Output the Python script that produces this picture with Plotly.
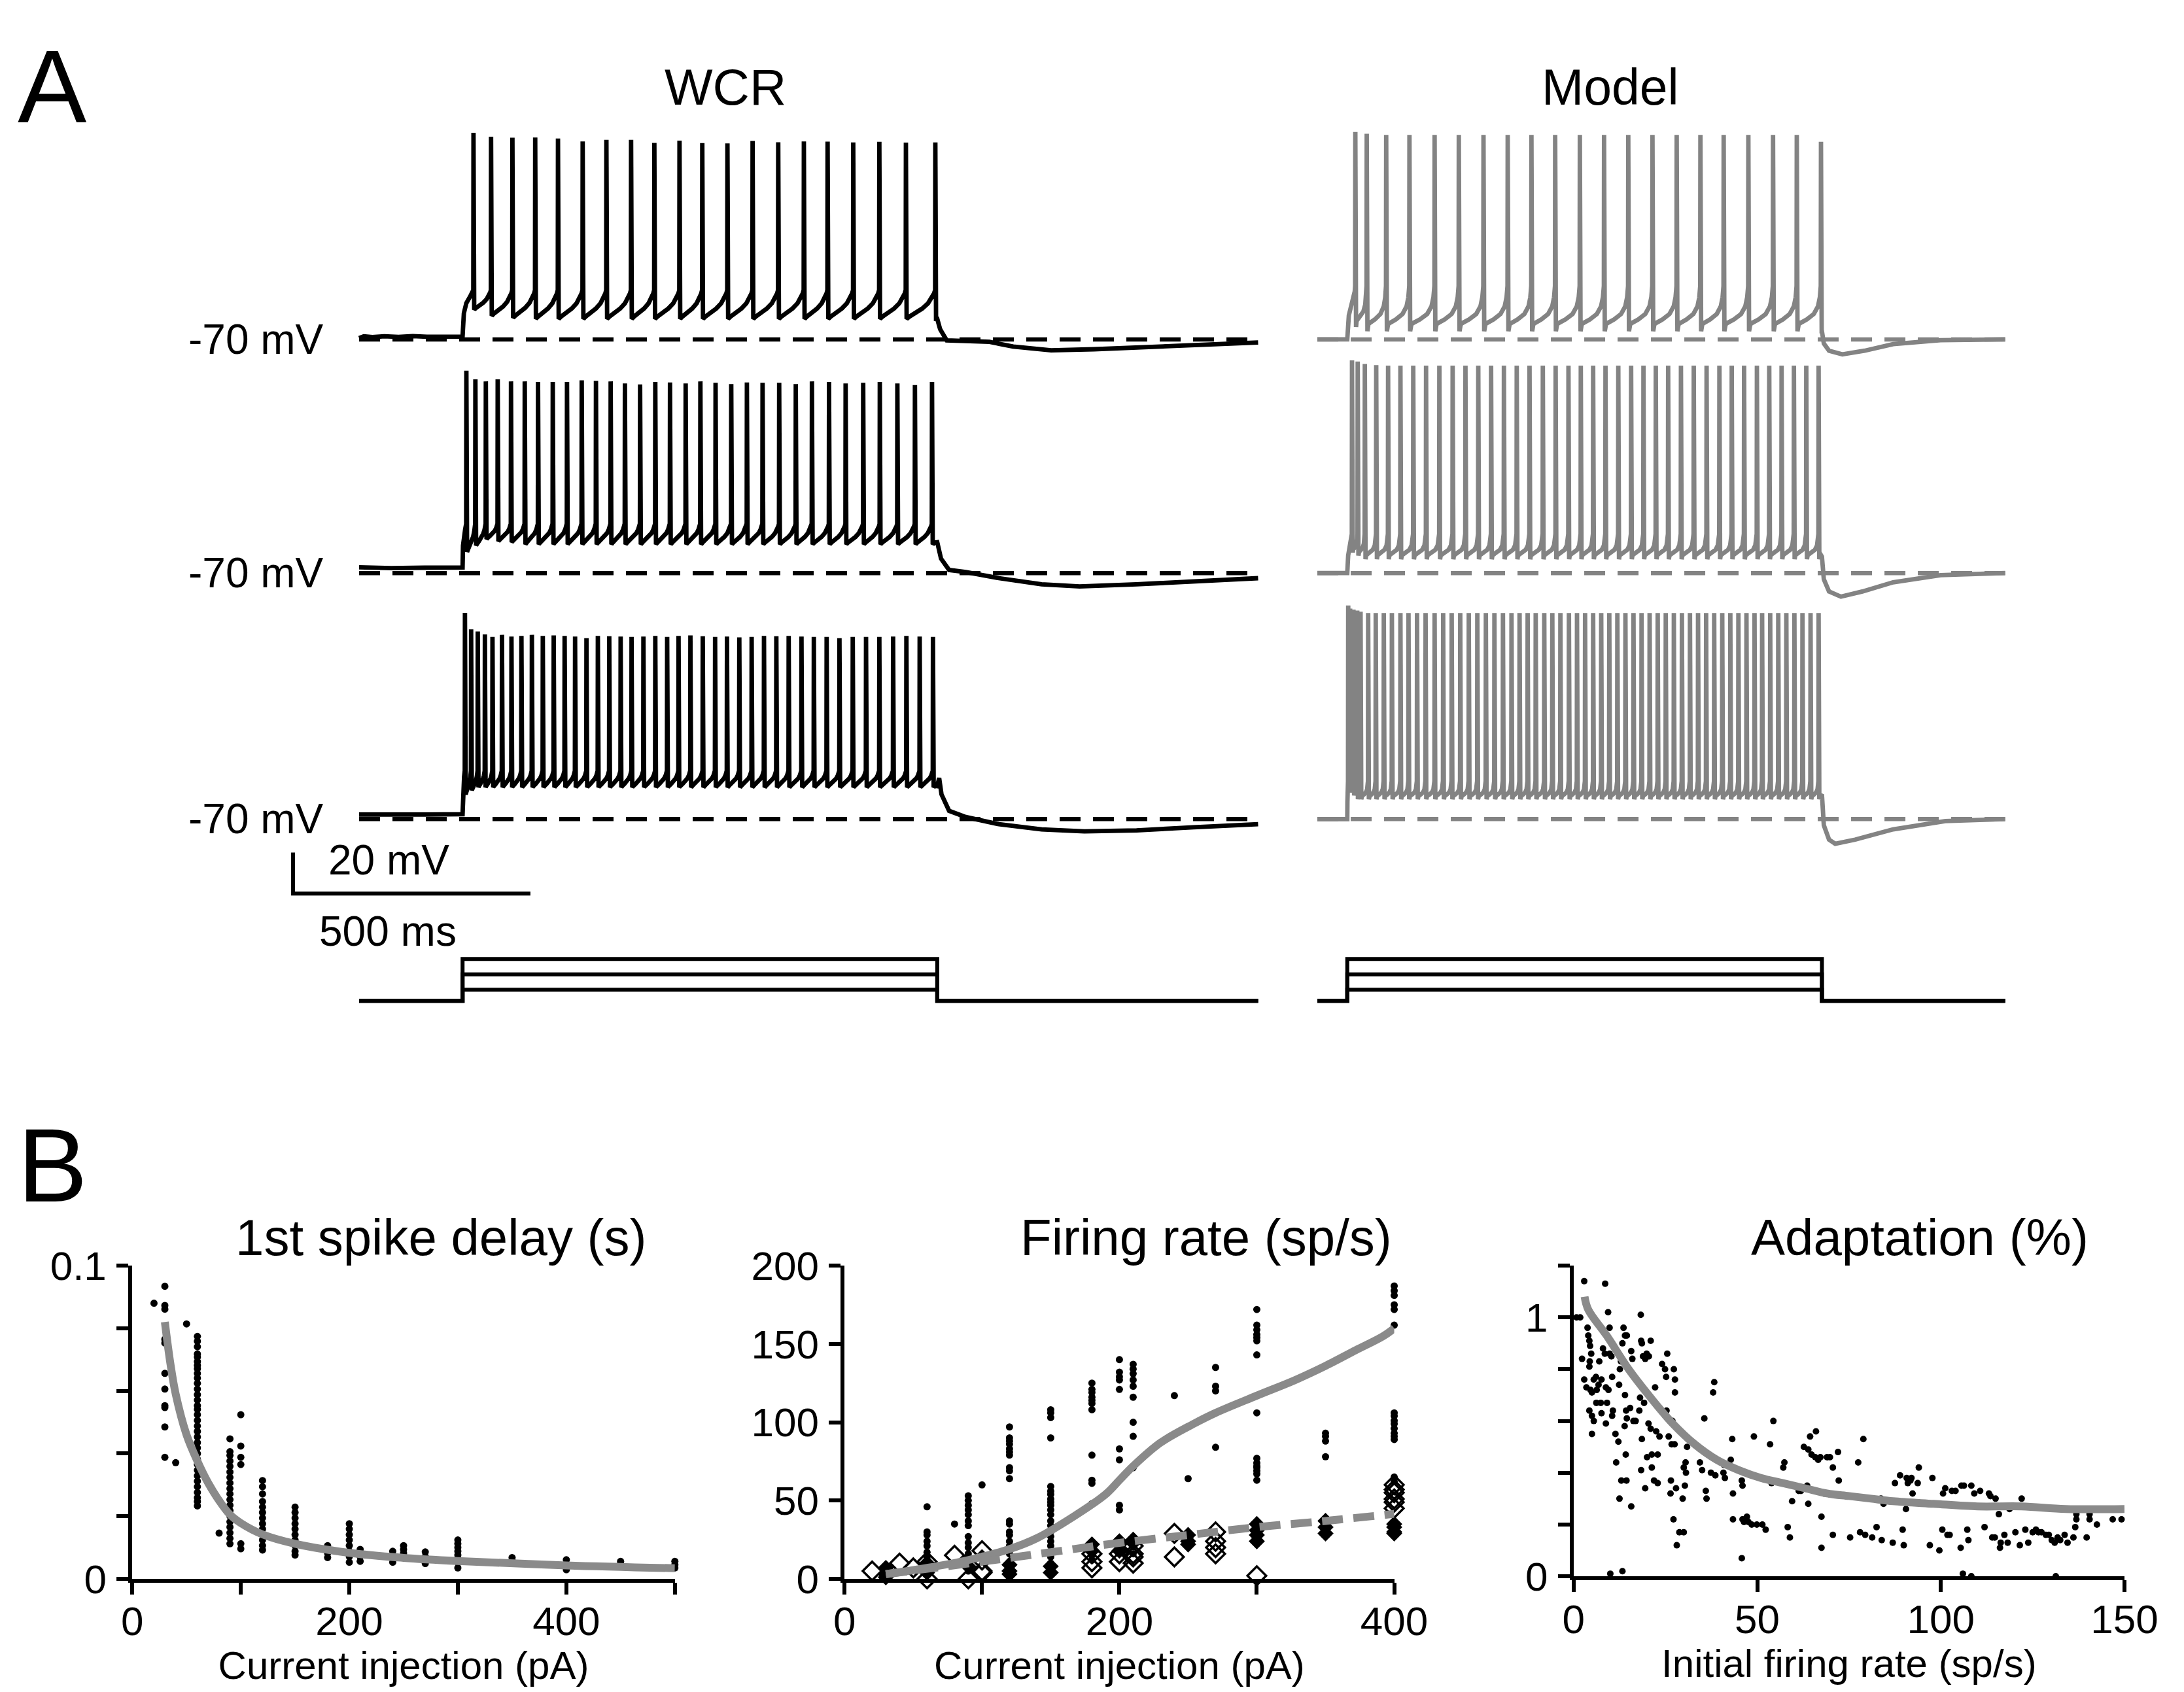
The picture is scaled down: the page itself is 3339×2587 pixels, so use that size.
import plotly.graph_objects as go

W, H = 3339, 2587
FONT = "Liberation Sans, Arial, sans-serif"
MODEL_GRAY = "#838383"
FIT_GRAY = "#8a8a8a"

# ===================== Panel A data (ms from step onset, mV) =====================
STIM_DUR = 1000
REST = -70
WCR_SPAN = [-218, 1676]
MODEL_SPAN = [-63, 1386]

wcr1_spike_t = [23, 60, 105, 153, 201, 253, 303, 355, 404, 457, 505, 558, 611, 665, 719, 769, 823, 878, 934, 996]
wcr1_peak = [30.6, 28.7, 28.2, 28.3, 27.8, 26.4, 27.2, 27.2, 25.7, 26.8, 25.6, 25.4, 26.6, 26.0, 26.4, 26.3, 25.9, 26.2, 25.8, 25.9]
wcr1_trough = [-55.5, -58.5, -59.5, -60.0]
wcr1_thresh = -46
wcr1_pre = [(-218, -69.4), (-208, -68.5), (-190, -68.9), (-165, -68.5), (-135, -68.8), (-105, -68.4), (-75, -68.7), (-45, -68.5), (-15, -68.7), (0, -68.6)]
wcr1_post = [(0, -60), (6, -65), (20, -70.5), (60, -71), (110, -71.2), (160, -73.5), (240, -75.3), (330, -74.8), (450, -73.5), (560, -72.3), (676, -71.5)]

wcr2_spike_t = [8, 27, 49, 74, 102, 131, 159, 190, 220, 251, 281, 312, 342, 374, 406, 437, 470, 501, 533, 566,
                599, 632, 667, 702, 736, 772, 807, 844, 879, 916, 953, 989]
wcr2_peak = [28.5, 24.3, 23.3, 24.3, 23.3, 23.3, 23.0, 23.0, 23.0, 23.8, 23.6, 23.3, 22.3, 21.8, 23.0, 22.8,
             22.3, 23.3, 22.6, 22.0, 22.8, 22.6, 22.6, 22.0, 23.3, 23.0, 22.3, 22.6, 23.0, 22.3, 21.5, 23.0]
wcr2_trough = [-59.7, -56.6, -53.5, -54.5, -55.0, -56.0]
wcr2_thresh = -46
wcr2_pre = [(-218, -67.2), (-150, -67.6), (-80, -67.4), (0, -67.3)]
wcr2_post = [(0, -55), (8, -63), (25, -68.5), (60, -69.5), (130, -72.5), (220, -75.5), (300, -76.5), (420, -75.5), (540, -74), (676, -72.5)]

wcr3_spike_t = [5, 18, 32, 47, 63, 83, 103, 124, 146, 169, 192, 215, 237, 261, 285, 309, 333, 356, 381, 406, 431,
                455, 480, 506, 532, 557, 583, 609, 635, 661, 687, 714, 740, 767, 794, 822, 850, 878, 907, 935, 963, 991]
wcr3_peak = [30.4, 22.4, 21.3, 19.9, 18.7, 19.7, 18.9, 19.2, 19.7, 19.2, 19.4, 19.2, 18.9, 18.1, 19.2, 19.0, 18.9,
             18.7, 18.9, 19.2, 18.7, 19.2, 19.4, 19.0, 18.7, 18.9, 18.5, 18.7, 19.2, 19.0, 19.2, 18.9, 18.7, 18.7,
             18.1, 18.7, 18.7, 18.7, 18.9, 19.2, 18.9, 18.7]
wcr3_trough = [-58.0, -56.0, -54.5]
wcr3_thresh = -46.5
wcr3_pre = [(-218, -67.8), (-150, -68.0), (-80, -67.8), (0, -67.6)]
wcr3_post = [(0, -54), (4, -50), (9, -58), (25, -66), (60, -69), (130, -72.5), (220, -75), (310, -76), (420, -75.5), (540, -74), (676, -72.5)]

model1_spike_t = [17, 41, 82, 131, 184, 235, 287, 338, 388, 438, 490, 541, 592, 643, 694, 744, 793, 845, 897, 947, 998]
model1_peak = [31.0, 30.1] + [29.6] * 18 + [26.2]
model1_trough = [-64.0, -66.0]
model1_thresh = -44
model1_post = [(0, -66), (4, -72), (15, -75.5), (43, -77.3), (90, -75.5), (150, -72.3), (250, -70.4), (386, -70)]

model2_spike_t = [10, 22, 37, 61, 86, 112, 139, 166, 194, 222, 249, 276, 303, 330, 357, 384, 412, 439, 466, 492,
                  518, 544, 571, 598, 624, 650, 676, 703, 730, 757, 784, 810, 836, 863, 889, 915, 941, 967, 993]
model2_peak = [33.5, 33.0, 31.8, 31.2] + [31.0] * 35
model2_trough = [-60.0, -61.5, -63.3]
model2_thresh = -51
model2_post = [(0, -62), (4, -73), (15, -79), (40, -81.5), (85, -79), (150, -74.5), (250, -71), (386, -70)]

model3_spike_t = [2, 6, 13, 21, 28, 44, 60, 77, 94, 112, 129, 147, 165, 184, 202, 220, 238, 256, 274, 292, 310,
                  328, 346, 363, 380, 397, 415, 432, 449, 467, 484, 501, 518, 535, 552, 569, 586, 603, 620, 637,
                  654, 671, 688, 705, 722, 739, 756, 773, 790, 807, 824, 841, 858, 874, 891, 908, 925, 942, 959, 976, 993]
model3_peak = [34.0, 32.5, 32.0, 31.5, 31.0] + [30.3] * 56
model3_trough = [-55.0, -57.0, -58.5, -60.3]
model3_thresh = -51.5
model3_post = [(0, -58), (4, -73), (15, -80), (28, -82), (70, -80), (150, -75), (260, -71), (386, -70)]

model_pre = [(-63, -70.0), (0, -70.0)]

# shape of the voltage path between spikes (fraction of interval, fraction of trough->threshold rise)
wcr_isi_shape = [(0, 0), (0.1, 0.08), (0.3, 0.2), (0.55, 0.36), (0.75, 0.54), (0.88, 0.72), (0.96, 0.88), (1, 1)]
wcr_onset_shape = [(0, 0), (0.12, 0.5), (0.35, 0.72), (0.7, 0.86), (1, 1)]
model_isi_shape = [(0, 0), (0.05, 0.15), (0.12, 0.18), (0.4, 0.26), (0.7, 0.38), (0.88, 0.55), (0.96, 0.75), (1, 1)]
model_onset_shape = [(0, 0), (0.2, 0.45), (0.5, 0.62), (0.8, 0.78), (0.95, 0.9), (1, 1)]

stim_levels = [80, 190, 300]   # three current steps (drawn schematically)
scale_bar_ms = 500
scale_bar_mv = 20

# ===================== Panel B data =====================
delay_current = [20, 30, 40, 50, 60, 80, 90, 100, 120, 150, 180, 200, 210, 240, 250, 270, 300, 350, 400, 450, 500]
delay_values = [
    [0.088],
    [0.0934, 0.0873, 0.0861, 0.0765, 0.0753, 0.0656, 0.0606, 0.0553, 0.0547, 0.0485, 0.0388],
    [0.0371],
    [0.0814],
    [0.0774, 0.0759, 0.0741, 0.0718, 0.0708, 0.0694, 0.0682, 0.0671, 0.0656, 0.0641, 0.0624, 0.0606, 0.0588,
     0.0571, 0.0553, 0.0541, 0.0524, 0.0506, 0.0488, 0.0471, 0.0453, 0.0435, 0.0418, 0.0400, 0.0382, 0.0365,
     0.0347, 0.0329, 0.0312, 0.0294, 0.0276, 0.0259, 0.0247, 0.0233],
    [0.0146],
    [0.0447, 0.0406, 0.0394, 0.0376, 0.0359, 0.0341, 0.0324, 0.0306, 0.0288, 0.0271, 0.0253, 0.0235, 0.0218,
     0.0200, 0.0182, 0.0165, 0.0147, 0.0129, 0.0112],
    [0.0524, 0.0424, 0.0388, 0.0365, 0.0112, 0.0096],
    [0.0314, 0.0294, 0.0271, 0.0247, 0.0229, 0.0212, 0.0194, 0.0176, 0.0159, 0.0141, 0.0124, 0.0106, 0.0092],
    [0.0229, 0.0212, 0.0194, 0.0176, 0.0159, 0.0141, 0.0124, 0.0106, 0.0088, 0.0076],
    [0.0106, 0.0094, 0.0082, 0.0068],
    [0.0176, 0.0159, 0.0141, 0.0124, 0.0106, 0.0088, 0.0071, 0.0053],
    [0.0094, 0.0082, 0.0071, 0.0056],
    [0.0088, 0.0076, 0.0065, 0.0053],
    [0.0106, 0.0094, 0.0082, 0.0071],
    [0.0086, 0.0071, 0.0049],
    [0.0124, 0.0112, 0.0100, 0.0088, 0.0076, 0.0065, 0.0053, 0.0035],
    [0.0068, 0.0059],
    [0.0061, 0.0047, 0.0029],
    [0.0056, 0.0049],
    [0.0056, 0.0045, 0.0035],
]
delay_fit_x = [30, 35, 40, 50, 60, 70, 80, 90, 100, 120, 150, 200, 250, 300, 400, 500]
delay_fit_y = [0.082, 0.069, 0.059, 0.046, 0.0376, 0.0306, 0.0250, 0.0205, 0.0178, 0.0142, 0.0112, 0.0083, 0.0067, 0.0057, 0.0043, 0.0034]

rate_dot_current = [30, 60, 80, 90, 100, 120, 150, 180, 200, 210, 240, 250, 270, 300, 350, 400]
rate_dot_values = [
    [3, 1], [46, 30, 28, 24, 21, 17, 14, 10, 7], [35],
    [53, 50, 47, 44, 41, 37, 34, 27, 23, 20, 16, 12, 9, 5], [60],
    [97, 90, 88, 86, 83, 81, 79, 71, 69, 64, 37, 35, 30, 28, 24, 21, 16, 11, 7, 4],
    [108, 106, 103, 90, 59, 56, 54, 51, 49, 47, 44, 41, 37, 34, 30, 27, 24, 21, 17, 14, 10, 7],
    [125, 121, 119, 116, 114, 112, 108, 79, 63, 61, 48, 22, 18, 15, 12],
    [140, 132, 129, 127, 121, 83, 76, 47, 44, 25, 21, 18],
    [137, 134, 131, 127, 123, 116, 100, 91, 71, 25, 21, 16],
    [117], [64], [135, 123, 120, 84],
    [172, 162, 159, 156, 154, 152, 143, 106, 77, 74, 72, 71, 69, 67, 63],
    [93, 91, 88, 78],
    [187, 184, 181, 175, 172, 162, 106, 104, 101, 99, 96, 93, 91, 89, 65, 62],
]
ss_open_current = [20, 40, 50, 60, 80, 90, 100, 180, 200, 210, 240, 270, 300, 400]
ss_open_values = [[5], [10], [7], [0, 11], [15], [0], [18, 12, 5, 4], [16, 11, 7], [16, 11], [21, 16, 14, 10],
                  [29, 14], [30, 24, 20, 16], [2], [60, 57, 55, 51, 49, 45]]
ss_fill_current = [30, 60, 90, 120, 150, 180, 200, 210, 250, 300, 350, 400]
ss_fill_values = [[7, 3, 1], [10, 8, 4], [12, 8], [9, 5, 3], [8, 4], [22, 18], [24, 22, 18], [25, 23],
                  [28, 24, 22], [35, 31, 28, 24], [37, 33, 29], [35, 33, 30, 29]]
rate_init_fit_x = [30, 60, 90, 120, 140, 167, 190, 200, 210, 230, 254, 270, 300, 328, 350, 372, 392, 400]
rate_init_fit_y = [3, 7, 12, 19, 26, 40, 54, 63, 72, 87, 99, 106, 117, 127, 136, 146, 155, 160]
rate_ss_fit_x = [30, 100, 150, 200, 250, 300, 350, 400]
rate_ss_fit_y = [3, 11, 17, 23, 28, 33, 37, 41.5]

adapt_rate = [
    0.8, 1.8, 2.9, 8.6, 9.4, 9.8, 2.3, 3.8, 4.0, 4.3, 4.5, 4.8, 4.4, 4.3, 2.9, 3.5, 4.6, 5.0, 5.5, 6.1, 6.3, 6.8,
    7.0, 7.6, 8.0, 8.5, 8.8, 9.1, 9.5, 9.8, 10.3, 10.5, 10.7, 10.5, 4.3, 5.0, 5.5, 5.0, 7.6, 8.8, 6.2, 7.4,
    10.0, 11.4, 12.2, 11.6, 12.4, 12.6, 12.9, 13.3, 13.6, 14.0, 14.5, 13.0, 13.3, 12.5, 14.0, 14.3, 14.5, 13.9,
    14.2, 14.4, 15.7, 16.0, 15.4, 15.7, 16.3, 16.9, 17.9, 18.1, 18.3, 18.4, 18.6, 18.9, 18.6, 18.4, 19.2, 19.5,
    19.5, 19.9, 20.4, 20.0, 20.5, 21.0, 21.0, 21.3, 21.3, 21.9, 22.2, 22.5, 22.9, 23.4, 22.9, 24.1, 24.9, 25.5,
    25.2, 25.3, 25.9, 26.4, 26.5, 26.7, 26.9, 27.3, 27.6, 27.6, 27.2, 27.5, 27.9, 28.1, 28.8, 30.0,
    29.7, 30.0, 30.5, 30.6, 30.9, 31.1, 30.3, 34.4, 35.0, 35.6, 36.0, 36.2, 37.4, 38.0, 38.3, 38.6, 40.8, 41.0,
    41.2, 42.8, 43.2, 43.4, 43.4, 45.8, 46.0, 46.0, 46.4, 46.4, 46.7, 47.2, 47.6, 45.8, 48.5, 49.1, 49.9,
    51.4, 52.3, 53.5, 53.9, 54.4, 57.1, 57.4, 58.3, 58.9, 59.5, 61.3, 61.9, 62.7, 63.6, 63.9, 63.9, 64.4, 64.8,
    66.0, 65.8, 66.6, 67.2, 67.5, 67.5, 68.2, 69.0, 69.8, 70.6, 70.6, 72.0, 72.2,
    75.3, 77.5, 78.0, 78.9, 79.4, 81.3, 82.5, 83.7, 83.9, 84.4, 86.9, 87.5, 88.9, 89.6, 89.9, 90.5, 90.7, 91.0,
    91.7, 92.0, 92.3, 93.7, 94.0, 97.0, 97.7, 99.6,
    100.4, 100.6, 101.2, 101.8, 102.4, 103.0, 104.0, 105.4, 105.6, 106.0, 106.3, 107.2, 107.5, 108.3, 108.3,
    109.1, 110.7, 111.9, 113.1, 113.5, 114.0, 114.7, 114.9, 115.8, 116.1, 116.3, 117.3, 118.2, 118.7, 120.3,
    121.5, 122.0, 123.0, 123.8, 125.0,
    125.9, 126.6, 127.4, 128.6, 129.4, 130.2, 131.0, 131.3, 131.8, 132.5, 133.7, 134.5, 136.1, 136.6, 136.9,
    136.9, 139.7, 140.5, 140.5, 142.5, 146.8, 149.2,
]
adapt_value = [
    1.00, 1.00, 1.14, 1.13, 1.02, 0.96, 0.84, 0.96, 0.93, 0.91, 0.89, 0.86, 0.83, 0.81, 0.76, 0.73, 0.72, 0.71,
    0.76, 0.77, 0.72, 0.74, 0.83, 0.76, 0.88, 0.86, 0.73, 0.67, 0.72, 0.86, 0.85, 0.77, 0.64, 0.62, 0.64, 0.62,
    0.60, 0.55, 0.63, 0.59, 0.67, 0.67,
    0.01, 0.55, 0.52, 0.44, 0.74, 0.80, 0.83, 0.90, 0.96, 0.93, 0.93, 0.37, 0.02, 0.30, 0.70, 0.64, 0.61, 0.58,
    0.47, 0.37, 0.87, 0.84, 0.65, 0.27, 0.60, 0.60, 0.64, 0.69, 1.01, 0.91, 0.90, 0.85, 0.53, 0.41, 0.67, 0.34,
    0.84, 0.86, 0.59, 0.46, 0.85, 0.91, 0.57, 0.47, 0.42, 0.37, 0.73, 0.56, 0.36, 0.54, 0.47, 0.82, 0.80, 0.86,
    0.77, 0.64, 0.54, 0.32, 0.37, 0.51, 0.60, 0.80, 0.76, 0.71, 0.22, 0.51, 0.34, 0.12, 0.17, 0.17,
    0.30, 0.42, 0.44, 0.40, 0.50, 0.53, 0.35, 0.44, 0.41, 0.61, 0.33, 0.30, 0.40, 0.71, 0.75, 0.39, 0.40, 0.43,
    0.38, 0.45, 0.53, 0.32, 0.22, 0.37, 0.35, 0.22, 0.40, 0.21, 0.22, 0.23, 0.21, 0.07, 0.20, 0.54, 0.20,
    0.20, 0.18, 0.51, 0.36, 0.60, 0.42, 0.44, 0.19, 0.15, 0.29, 0.33, 0.33, 0.50, 0.35, 0.49, 0.28, 0.54, 0.47,
    0.56, 0.46, 0.45, 0.46, 0.23, 0.11, 0.32, 0.46, 0.46, 0.42, 0.16, 0.48, 0.37,
    0.15, 0.44, 0.17, 0.53, 0.16, 0.15, 0.19, 0.30, 0.14, 0.28, 0.13, 0.36, 0.39, 0.18, 0.12, 0.26, 0.38, 0.36,
    0.37, 0.38, 0.32, 0.36, 0.42, 0.12, 0.38, 0.10,
    0.18, 0.32, 0.34, 0.16, 0.16, 0.33, 0.33, 0.11, 0.35, 0.01, 0.35, 0.18, 0.14, 0.35, 0.00, 0.32, 0.33, 0.19,
    0.32, 0.31, 0.15, 0.15, 0.30, 0.24, 0.11, 0.13, 0.16, 0.13, 0.26, 0.17, 0.12, 0.30, 0.18, 0.13, 0.17,
    0.18, 0.17, 0.17, 0.16, 0.16, 0.14, 0.13, 0.00, 0.15, 0.14, 0.16, 0.13, 0.15, 0.19, 0.24, 0.22, 0.15, 0.24,
    0.22, 0.20, 0.22, 0.22,
]
adapt_fit_x = [3, 4, 9, 15, 21, 27, 33, 39, 45, 51, 57, 63, 69, 75, 81, 87, 98, 110, 122, 134, 150]
adapt_fit_y = [1.08, 1.03, 0.93, 0.80, 0.69, 0.59, 0.51, 0.45, 0.41, 0.38, 0.36, 0.34, 0.32, 0.31, 0.30, 0.29, 0.28, 0.27, 0.27, 0.26, 0.26]


# ===================== helpers =====================
def build_trace(pre, spike_t, peaks, troughs, thresh, isi_shape, onset_shape, post, dur=STIM_DUR):
    t = [p[0] for p in pre]
    v = [p[1] for p in pre]
    v0 = pre[-1][1]
    seg_end = spike_t[0] - 0.4
    for f, g in onset_shape[1:]:
        t.append(f * seg_end)
        v.append(v0 + g * (thresh - v0))
    for i, ts in enumerate(spike_t):
        tr = troughs[min(i, len(troughs) - 1)]
        t += [ts, ts + 1.5]
        v += [peaks[i], tr]
        start = ts + 1.5
        if i + 1 < len(spike_t):
            span = spike_t[i + 1] - 0.4 - start
            lim = 1.0
        else:
            span = spike_t[i] - spike_t[i - 1]
            lim = (dur - start) / span
        for f, g in isi_shape[1:]:
            if f <= lim:
                t.append(start + f * span)
                v.append(tr + g * (thresh - tr))
    for dt, vv in post:
        t.append(dur + dt)
        v.append(vv)
    return t, v


def flatten(xs, groups):
    fx, fy = [], []
    for x, g in zip(xs, groups):
        for y in g:
            fx.append(x)
            fy.append(y)
    return fx, fy


def xdom(p0, p1):
    return [max(0.0, p0 / W), min(1.0, p1 / W)]


def ydom(top, bot):
    return [max(0.0, 1 - bot / H), min(1.0, 1 - top / H)]


# pixel geometry (full-size pixels)
K = 0.741        # px per ms
MV = 3.2265      # px per mV
WCR_ONSET_PX = 696.6
MODEL_ONSET_PX = 2077.7
ROW_REST_PX = [490.0, 857.0, 1243.5]
V_RANGE = [-88, 36]
WCR_XR = [-230, 1690]
MOD_XR = [-75, 1400]

fig = go.Figure()
layout = dict(width=W, height=H, margin=dict(l=0, r=0, t=0, b=0), paper_bgcolor="white",
              plot_bgcolor="rgba(0,0,0,0)", showlegend=False, font=dict(family=FONT, color="black"))


def hidden_axes(n, xr, xd, yr, yd):
    sx = "" if n == 1 else str(n)
    layout["xaxis" + sx] = dict(range=xr, domain=xd, visible=False, fixedrange=True, anchor="y" + sx)
    layout["yaxis" + sx] = dict(range=yr, domain=yd, visible=False, fixedrange=True, anchor="x" + sx)
    return ("x" + sx, "y" + sx)


wcr_xd = xdom(WCR_ONSET_PX + WCR_XR[0] * K, WCR_ONSET_PX + WCR_XR[1] * K)
mod_xd = xdom(MODEL_ONSET_PX + MOD_XR[0] * K, MODEL_ONSET_PX + MOD_XR[1] * K)

wcr_sets = [
    (wcr1_pre, wcr1_spike_t, wcr1_peak, wcr1_trough, wcr1_thresh, wcr1_post),
    (wcr2_pre, wcr2_spike_t, wcr2_peak, wcr2_trough, wcr2_thresh, wcr2_post),
    (wcr3_pre, wcr3_spike_t, wcr3_peak, wcr3_trough, wcr3_thresh, wcr3_post),
]
model_sets = [
    (model_pre, model1_spike_t, model1_peak, model1_trough, model1_thresh, model1_post),
    (model_pre, model2_spike_t, model2_peak, model2_trough, model2_thresh, model2_post),
    (model_pre, model3_spike_t, model3_peak, model3_trough, model3_thresh, model3_post),
]

TRACE_W = 6.8
DASH_W = 6.5
DASH = "32px,19px"

n = 1
for r in range(3):
    rest = ROW_REST_PX[r]
    yd = ydom(rest - (V_RANGE[1] - REST) * MV, rest + (REST - V_RANGE[0]) * MV)
    # WCR
    xa, ya = hidden_axes(n, WCR_XR, wcr_xd, V_RANGE, yd)
    n += 1
    pre, st, pk, tr, th, post = wcr_sets[r]
    t, v = build_trace(pre, st, pk, tr, th, wcr_isi_shape, wcr_onset_shape, post)
    fig.add_trace(go.Scatter(x=WCR_SPAN, y=[REST, REST], mode="lines", xaxis=xa, yaxis=ya,
                             line=dict(color="black", width=DASH_W, dash=DASH)))
    fig.add_trace(go.Scatter(x=t, y=v, mode="lines", xaxis=xa, yaxis=ya,
                             line=dict(color="black", width=TRACE_W)))
    # Model
    xa, ya = hidden_axes(n, MOD_XR, mod_xd, V_RANGE, yd)
    n += 1
    pre, st, pk, tr, th, post = model_sets[r]
    t, v = build_trace(pre, st, pk, tr, th, model_isi_shape, model_onset_shape, post)
    fig.add_trace(go.Scatter(x=MODEL_SPAN, y=[REST, REST], mode="lines", xaxis=xa, yaxis=ya,
                             line=dict(color=MODEL_GRAY, width=DASH_W, dash=DASH)))
    fig.add_trace(go.Scatter(x=t, y=v, mode="lines", xaxis=xa, yaxis=ya,
                             line=dict(color=MODEL_GRAY, width=TRACE_W)))

# stimulus traces
STIM_BASE_PX = 1529.0
STIM_K = 0.219
STIM_YR = [-40, 340]
stim_yd = ydom(STIM_BASE_PX - STIM_YR[1] * STIM_K, STIM_BASE_PX - STIM_YR[0] * STIM_K)
for span, xr, xd in [(WCR_SPAN, WCR_XR, wcr_xd), (MODEL_SPAN, MOD_XR, mod_xd)]:
    xa, ya = hidden_axes(n, xr, xd, STIM_YR, stim_yd)
    n += 1
    for L in stim_levels:
        fig.add_trace(go.Scatter(x=[span[0], 0, 0, STIM_DUR, STIM_DUR, span[1]], y=[0, 0, L, L, 0, 0],
                                 mode="lines", xaxis=xa, yaxis=ya,
                                 line=dict(color="black", width=6)))

# scale bar
SB_X, SB_Y = 432.0, 1360.6
sb_xr = [-20, 520]
sb_yr = [-3, 23]
xa, ya = hidden_axes(n, sb_xr, xdom(SB_X + sb_xr[0] * K, SB_X + sb_xr[1] * K), sb_yr,
                     ydom(SB_Y - sb_yr[1] * MV, SB_Y - sb_yr[0] * MV))
n += 1
fig.add_trace(go.Scatter(x=[0, 0, scale_bar_ms], y=[scale_bar_mv, 0, 0], mode="lines", xaxis=xa, yaxis=ya,
                         line=dict(color="black", width=6)))

# ===================== Panel B =====================
TICKFONT = dict(family=FONT, size=62, color="black")
TITLEFONT = dict(family=FONT, size=60, color="black")
B_TOP, B_BOT = 1945, 2437


def visible_axes(n, xr, xd, yr, yd, xt, xtt, yt, ytt, xtitle):
    sx = str(n)
    common = dict(showline=True, linecolor="black", linewidth=6, ticks="outside", ticklen=18, tickwidth=6,
                  tickcolor="black", showgrid=False, zeroline=False, fixedrange=True, tickfont=TICKFONT)
    layout["xaxis" + sx] = dict(range=xr, domain=xd, anchor="y" + sx, tickvals=xt, ticktext=xtt,
                                ticklabelstandoff=-12,
                                title=dict(text=xtitle, font=TITLEFONT, standoff=6), **common)
    layout["yaxis" + sx] = dict(range=yr, domain=yd, anchor="x" + sx, tickvals=yt, ticktext=ytt,
                                ticklabelstandoff=3, **common)
    return ("x" + sx, "y" + sx)


DOT = 11
# plot 1
xa, ya = visible_axes(n, [0, 500], xdom(181, 1028), [0, 0.1], ydom(B_TOP, B_BOT),
                      [0, 100, 200, 300, 400, 500], ["0", "", "200", "", "400", ""],
                      [0, 0.02, 0.04, 0.06, 0.08, 0.1], ["0", "", "", "", "", "0.1"], "Current injection (pA)")
n += 1
dx, dy = flatten(delay_current, delay_values)
fig.add_trace(go.Scatter(x=dx, y=dy, mode="markers", xaxis=xa, yaxis=ya, cliponaxis=False,
                         marker=dict(color="black", size=DOT)))
fig.add_trace(go.Scatter(x=delay_fit_x, y=delay_fit_y, mode="lines", xaxis=xa, yaxis=ya,
                         line=dict(color=FIT_GRAY, width=12, shape="spline")))

# plot 2
xa, ya = visible_axes(n, [0, 400], xdom(1293, 2151), [0, 200], ydom(B_TOP, B_BOT),
                      [0, 100, 200, 300, 400], ["0", "", "200", "", "400"],
                      [0, 50, 100, 150, 200], ["0", "50", "100", "150", "200"], "Current injection (pA)")
n += 1
ox, oy = flatten(ss_open_current, ss_open_values)
fx, fy = flatten(ss_fill_current, ss_fill_values)
rx, ry = flatten(rate_dot_current, rate_dot_values)
fig.add_trace(go.Scatter(x=ox, y=oy, mode="markers", xaxis=xa, yaxis=ya, cliponaxis=False,
                         marker=dict(symbol="diamond-open", color="black", size=22, line=dict(width=3.5, color="black"))))
fig.add_trace(go.Scatter(x=fx, y=fy, mode="markers", xaxis=xa, yaxis=ya, cliponaxis=False,
                         marker=dict(symbol="diamond", color="black", size=19)))
fig.add_trace(go.Scatter(x=rx, y=ry, mode="markers", xaxis=xa, yaxis=ya, cliponaxis=False,
                         marker=dict(color="black", size=DOT)))
fig.add_trace(go.Scatter(x=rate_init_fit_x, y=rate_init_fit_y, mode="lines", xaxis=xa, yaxis=ya,
                         line=dict(color=FIT_GRAY, width=12, shape="spline")))
fig.add_trace(go.Scatter(x=rate_ss_fit_x, y=rate_ss_fit_y, mode="lines", xaxis=xa, yaxis=ya,
                         line=dict(color=FIT_GRAY, width=12, shape="spline", dash="32px,16px")))

# plot 3
xa, ya = visible_axes(n, [0, 150], xdom(2431, 3291), [0, 1.2], ydom(B_TOP, 2433),
                      [0, 50, 100, 150], ["0", "50", "100", "150"],
                      [0, 0.2, 0.4, 0.6, 0.8, 1.0, 1.2], ["0", "", "", "", "", "1", ""], "Initial firing rate (sp/s)")
n += 1
fig.add_trace(go.Scatter(x=adapt_rate, y=adapt_value, mode="markers", xaxis=xa, yaxis=ya, cliponaxis=False,
                         marker=dict(color="black", size=10)))
fig.add_trace(go.Scatter(x=adapt_fit_x, y=adapt_fit_y, mode="lines", xaxis=xa, yaxis=ya,
                         line=dict(color=FIT_GRAY, width=12, shape="spline")))

# ===================== text =====================
ann = []


def txt(s, px, py, size, xanchor="center", yanchor="middle"):
    ann.append(dict(text=s, x=px / W, y=1 - py / H, xref="paper", yref="paper", showarrow=False,
                    xanchor=xanchor, yanchor=yanchor, font=dict(family=FONT, size=size, color="black")))


txt("A", 0, 0, 158, xanchor="left", yanchor="top")
txt("B", 0, 1787, 160, xanchor="left")
txt("WCR", 1107, 94, 78)
txt("Model", 2488, 94, 77)
for py in ROW_REST_PX:
    txt("-70 mV", 482, py, 64, xanchor="right")
txt("20 mV", 485, 1308, 64, xanchor="left")
txt("500 ms", 580, 1420, 64)
txt("1st spike delay (s)", 663, 1901, 78)
txt("Firing rate (sp/s)", 1857, 1901, 78)
txt("Adaptation (%)", 2971, 1901, 78)
layout["annotations"] = ann

fig.update_layout(**layout)
fig.write_html("out.html")
